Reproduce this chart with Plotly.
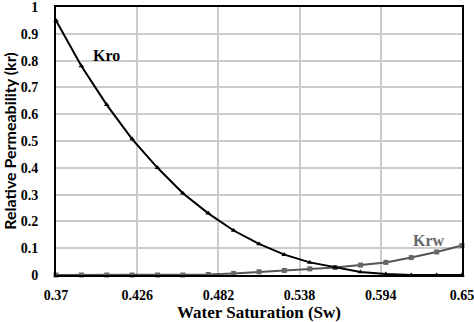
import plotly.graph_objects as go

sw = [0.37, 0.3875, 0.405, 0.4225, 0.44, 0.4575, 0.475, 0.4925, 0.51,
      0.5275, 0.545, 0.5625, 0.58, 0.5975, 0.615, 0.6325, 0.65]
kro = [0.95, 0.78, 0.635, 0.507, 0.40, 0.305, 0.23, 0.166, 0.116,
       0.076, 0.047, 0.028, 0.011, 0.004, 0.0, 0.0, 0.0]
krw = [0.0, 0.0, 0.0, 0.0, 0.0, 0.0, 0.002, 0.006, 0.012,
       0.017, 0.023, 0.028, 0.037, 0.047, 0.065, 0.086, 0.11]
xticks = [0.37, 0.426, 0.482, 0.538, 0.594, 0.65]
xticklabels = ["0.37", "0.426", "0.482", "0.538", "0.594", "0.65"]
yticks = [0, 0.1, 0.2, 0.3, 0.4, 0.5, 0.6, 0.7, 0.8, 0.9, 1]
yticklabels = ["0", "0.1", "0.2", "0.3", "0.4", "0.5", "0.6", "0.7", "0.8", "0.9", "1"]

serif = "Liberation Serif, DejaVu Serif, serif"
sans = "Lato, Open Sans, sans-serif"

fig = go.Figure()
fig.add_trace(go.Scatter(x=sw, y=krw, mode="lines+markers", name="Krw",
                         line=dict(color="#555555", width=2),
                         marker=dict(symbol="square", size=5, color="#666666"),
                         cliponaxis=False))
fig.add_trace(go.Scatter(x=sw, y=kro, mode="lines+markers", name="Kro",
                         line=dict(color="#000000", width=2),
                         marker=dict(symbol="triangle-up", size=5, color="#000000"),
                         cliponaxis=False))

fig.add_annotation(x=0.405, y=0.82, text="<b>Kro</b>", showarrow=False,
                   font=dict(family=serif, size=16, color="#000000"))
fig.add_annotation(x=0.627, y=0.13, text="<b>Krw</b>", showarrow=False,
                   font=dict(family=serif, size=16, color="#666666"))

fig.update_layout(
    width=474, height=322,
    margin=dict(l=56, r=12, t=7, b=47),
    paper_bgcolor="white", plot_bgcolor="white",
    showlegend=False,
    font=dict(family=serif, size=14, color="#000000"),
)
fig.update_xaxes(
    range=[0.37, 0.65], tickvals=xticks,
    ticktext=["<b>%s</b>" % t for t in xticklabels],
    showgrid=True, gridcolor="#cccccc", gridwidth=1.5,
    showline=True, linecolor="#000000", linewidth=2, mirror=True,
    zeroline=False, ticks="", ticklabelstandoff=6, ticklabeloverflow="allow",
    automargin=False,
    tickfont=dict(family=serif, size=14, color="#000000"),
    title=dict(text="<b>Water Saturation (Sw)</b>", standoff=6,
               font=dict(family=serif, size=17, color="#000000")),
)
fig.update_yaxes(
    range=[0, 1], tickvals=yticks,
    ticktext=["<b>%s</b>" % t for t in yticklabels],
    showgrid=True, gridcolor="#cccccc", gridwidth=1.5,
    showline=True, linecolor="#000000", linewidth=2, mirror=True,
    zeroline=False, ticks="", ticklabelstandoff=13, ticklabeloverflow="allow",
    automargin=False,
    tickfont=dict(family=serif, size=14, color="#000000"),
    title=dict(text="<b>Relative Permeability (kr)</b>", standoff=4,
               font=dict(family=sans, size=16, color="#000000")),
)

fig.write_html("out.html")
